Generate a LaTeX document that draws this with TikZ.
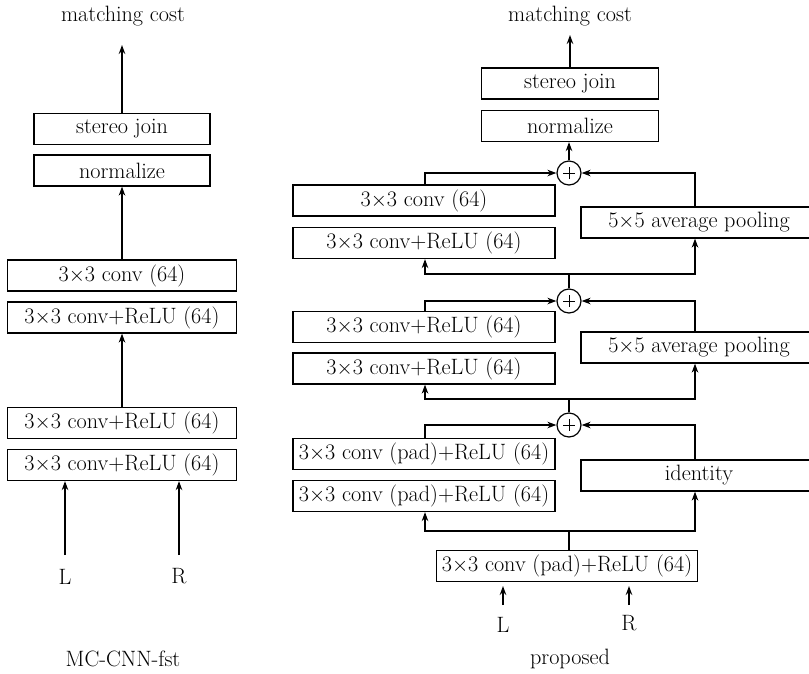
\documentclass[tikz,border=0pt]{standalone}
\usetikzlibrary{arrows.meta,calc}
\begin{document}
\begin{tikzpicture}[x=1pt,y=-1pt,
  every node/.style={font=\fontsize{22.2}{26}\selectfont, inner sep=0pt},
  blk/.style={draw, line width=1.2pt, minimum height=31pt},
  wire/.style={line width=1.8pt},
  arr/.style={line width=1.8pt, -{Stealth[length=9pt,width=6.5pt]}},
  plus/.style={draw, circle, line width=1.2pt, minimum size=24pt}]
\useasboundingbox (0,0) rectangle (809,673);
\clip (0,0) rectangle (809,673);
% ---------------- left: MC-CNN-fst ----------------
\node (mc1) at (123,16) {matching cost};
\node[blk, minimum width=176pt] (sj1) at (122,129) {stereo join};
\node[blk, minimum width=176pt] (nm1) at (122,170.5) {normalize};
\node[blk, minimum width=229pt] (c1) at (122,275.5) {3$\times$3 conv (64)};
\node[blk, minimum width=229pt] (c2) at (122,317.5) {3$\times$3 conv+ReLU (64)};
\node[blk, minimum width=229pt] (c3) at (122,423) {3$\times$3 conv+ReLU (64)};
\node[blk, minimum width=229pt] (c4) at (122,465) {3$\times$3 conv+ReLU (64)};
\node (L1) at (65,577) {L};
\node (R1) at (179,576) {R};
\node (t1) at (123,659) {MC-CNN-fst};
\coordinate (mc1e) at (122,45);
\draw[arr] (sj1.north) -- (mc1e);
\draw[arr] (c1.north) -- (nm1.south);
\draw[arr] (c3.north) -- (c2.south);
\coordinate (L1s) at (65,555);
\coordinate (R1s) at (179,555);
\draw[arr] (L1s) -- (L1s |- c4.south);
\draw[arr] (R1s) -- (R1s |- c4.south);
% ---------------- right: proposed ----------------
\node (mc2) at (570,16) {matching cost};
\node[blk, minimum width=177pt] (sj2) at (570,83.5) {stereo join};
\node[blk, minimum width=177pt] (nm2) at (570,126) {normalize};
\node[plus] (p1) at (569,173) {};
\node[plus] (p2) at (569,301) {};
\node[plus] (p3) at (569,425) {};
\foreach \p in {p1,p2,p3}{
  \draw[line width=1pt] ($(\p)+(-6,0)$) -- ($(\p)+(6,0)$);
  \draw[line width=1pt] ($(\p)+(0,-6)$) -- ($(\p)+(0,6)$);
}
% block 1
\node[blk, minimum width=262pt] (a1) at (424,200.5) {3$\times$3 conv (64)};
\node[blk, minimum width=262pt] (a2) at (424,243) {3$\times$3 conv+ReLU (64)};
\node[blk, minimum width=236pt] (pool1) at (699,222.5) {5$\times$5 average pooling};
% block 2
\node[blk, minimum width=262pt] (b1) at (424,327) {3$\times$3 conv+ReLU (64)};
\node[blk, minimum width=262pt] (b2) at (424,368.5) {3$\times$3 conv+ReLU (64)};
\node[blk, minimum width=236pt] (pool2) at (699,347.5) {5$\times$5 average pooling};
% block 3
\node[blk, minimum width=262pt] (d1) at (424,454) {3$\times$3 conv (pad)+ReLU (64)};
\node[blk, minimum width=262pt] (d2) at (424,496) {3$\times$3 conv (pad)+ReLU (64)};
\node[blk, minimum width=236pt] (idn) at (699,475.5) {identity};
% bottom
\node[blk, minimum width=261pt] (bot) at (567,566) {3$\times$3 conv (pad)+ReLU (64)};
\node (L2) at (503,625) {L};
\node (R2) at (629,623) {R};
\node (t2) at (570,659) {proposed};
% top arrows
\coordinate (mc2e) at (570,35);
\draw[arr] (sj2.north) -- (mc2e);
\draw[arr] (p1.north) -- (p1.north |- nm2.south);
% merge into plus nodes
\coordinate (xl) at (425,0);
\coordinate (xr) at (695,0);
\foreach \p/\lb/\rb in {p1/a1/pool1, p2/b1/pool2, p3/d1/idn}{
  \draw[arr] (xl |- \lb.north) |- (\p.west);
  \draw[arr] (xr |- \rb.north) |- (\p.east);
}
% splits
\coordinate (s1) at (569,274);
\coordinate (s2) at (569,399);
\coordinate (s3) at (569,531);
\draw[wire] (p2.north) -- (s1);
\draw[arr] (s1) -| (xl |- a2.south);
\draw[arr] (s1) -| (xr |- pool1.south);
\draw[wire] (p3.north) -- (s2);
\draw[arr] (s2) -| (xl |- b2.south);
\draw[arr] (s2) -| (xr |- pool2.south);
\draw[wire] (s3 |- bot.north) -- (s3);
\draw[arr] (s3) -| (xl |- d2.south);
\draw[arr] (s3) -| (xr |- idn.south);
% inputs
\coordinate (L2s) at (503,605);
\coordinate (R2s) at (629,605);
\draw[arr] (L2s) -- (L2s |- 0,586);
\draw[arr] (R2s) -- (R2s |- 0,586);
\end{tikzpicture}
\end{document}
